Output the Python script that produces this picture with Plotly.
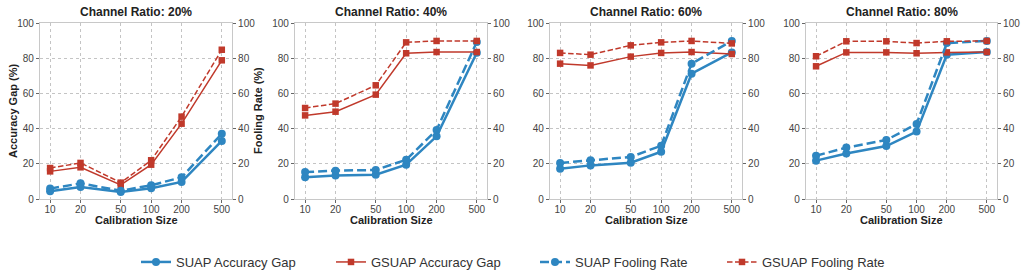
import plotly.graph_objects as go

calib_sizes = [10, 20, 50, 100, 200, 500]
tick_labels = ["10", "20", "50", "100", "200", "500"]
channel_ratios = ["20%", "40%", "60%", "80%"]

# per channel ratio (20, 40, 60, 80 %)
suap_acc_gap = [
    [4.4, 6.8, 4.0, 6.1, 9.7, 33.0],
    [12.3, 13.3, 13.8, 19.5, 35.6, 83.1],
    [17.2, 19.1, 20.6, 26.9, 71.2, 83.3],
    [21.8, 25.8, 30.1, 38.3, 82.0, 83.5],
]
gsuap_acc_gap = [
    [15.7, 18.0, 8.0, 19.5, 42.8, 78.8],
    [47.5, 49.6, 59.3, 82.8, 83.5, 83.5],
    [76.9, 75.9, 80.9, 83.0, 83.5, 82.4],
    [75.4, 83.3, 83.3, 82.8, 83.3, 83.5],
]
suap_fool_rate = [
    [5.9, 8.9, 4.7, 7.8, 12.3, 37.1],
    [15.3, 16.1, 16.5, 22.3, 39.2, 89.2],
    [20.5, 22.0, 23.9, 30.3, 76.9, 89.8],
    [24.6, 29.2, 33.5, 42.6, 88.6, 89.8],
]
gsuap_fool_rate = [
    [17.6, 20.5, 9.3, 22.0, 46.8, 84.8],
    [51.7, 54.2, 64.6, 89.0, 89.8, 89.8],
    [83.0, 82.0, 87.3, 89.0, 89.8, 88.4],
    [81.1, 89.6, 89.6, 88.6, 89.6, 89.8],
]
y_ticks = [0, 20, 40, 60, 80, 100]

BLUE = "#2e86c1"
RED = "#c0392b"
FONT = "Liberation Sans, Arial, sans-serif"
W, H = 1023, 276

x_px = [(40, 232), (295, 487), (550, 742), (806, 997)]
y_dom = [77 / H, 253 / H]

fig = go.Figure()

series = [
    ("SUAP Accuracy Gap", suap_acc_gap, BLUE, "solid", "circle", 8, 2.5, "left"),
    ("GSUAP Accuracy Gap", gsuap_acc_gap, RED, "solid", "square", 6.5, 1.5, "left"),
    ("SUAP Fooling Rate", suap_fool_rate, BLUE, "9px,4px", "circle", 8, 2.5, "right"),
    ("GSUAP Fooling Rate", gsuap_fool_rate, RED, "5.5px,2.5px", "square", 6.5, 1.5, "right"),
]
legend_names = ["legend", "legend2", "legend3", "legend4"]
legend_x = [136, 331, 535, 722]

for i in range(4):
    xa = f"x{i+1}" if i else "x"
    yl = f"y{2*i+1}" if i else "y"
    yr = f"y{2*i+2}"
    for k, (name, data, col, dash, sym, ms, lw, side) in enumerate(series):
        fig.add_trace(go.Scatter(
            x=calib_sizes, y=data[i], name=name, mode="lines+markers",
            line=dict(color=col, width=lw, dash=dash),
            marker=dict(symbol=sym, size=ms, color=col),
            xaxis=xa, yaxis=(yl if side == "left" else yr),
            showlegend=(i == 0), legend=legend_names[k],
        ))

layout = dict(
    width=W, height=H, margin=dict(l=0, r=0, t=0, b=0, autoexpand=False),
    paper_bgcolor="white", plot_bgcolor="white",
    font=dict(family=FONT, size=10, color="#444"),
)

axis_common = dict(
    showline=True, linecolor="#c8c8c8", linewidth=1.2, mirror=False,
    ticks="outside", ticklen=3, tickcolor="#666", tickwidth=1, automargin=False,
    tickfont=dict(family=FONT, size=10, color="#444"),
)

title_font = dict(family=FONT, size=11, color="#222")
annotations = []
for i in range(4):
    x0, x1 = x_px[i]
    xd = [x0 / W, x1 / W]
    xk = f"xaxis{i+1}" if i else "xaxis"
    ylk = f"yaxis{2*i+1}" if i else "yaxis"
    yrk = f"yaxis{2*i+2}"
    ylname = f"y{2*i+1}" if i else "y"
    xname = f"x{i+1}" if i else "x"
    layout[xk] = dict(
        axis_common, type="log", domain=xd, anchor=ylname,
        range=[0.9, 2.8], tickvals=calib_sizes, ticktext=tick_labels,
        showgrid=True, gridcolor="#c4c4c4", griddash="dot", gridwidth=1,
        mirror=True, zeroline=False, ticklabelstandoff=-2,
    )
    layout[ylk] = dict(
        axis_common, domain=y_dom, anchor=xname, range=[0, 100],
        tickvals=y_ticks, showgrid=True, gridcolor="#c4c4c4", griddash="dot",
        zeroline=False,
    )
    layout[yrk] = dict(
        axis_common, overlaying=ylname, side="right", anchor=xname,
        range=[0, 100], tickvals=y_ticks, showgrid=False, zeroline=False,
    )
    annotations.append(dict(
        text=f"<b>Channel Ratio: {channel_ratios[i]}</b>", xref="paper", yref="paper",
        x=(xd[0] + xd[1]) / 2, y=(H - 12) / H, xanchor="center", yanchor="middle",
        showarrow=False, font=dict(family=FONT, size=12, color="#222"),
    ))
    annotations.append(dict(
        text="<b>Calibration Size</b>", xref="paper", yref="paper",
        x=(xd[0] + xd[1]) / 2, y=(H - 219.5) / H, xanchor="center", yanchor="middle",
        showarrow=False, font=title_font,
    ))

annotations.append(dict(
    text="<b>Accuracy Gap (%)</b>", xref="paper", yref="paper", textangle=-90,
    x=13 / W, y=(H - 111) / H, xanchor="center", yanchor="middle",
    showarrow=False, font=title_font,
))
annotations.append(dict(
    text="<b>Fooling Rate (%)</b>", xref="paper", yref="paper", textangle=-90,
    x=258 / W, y=(H - 111) / H, xanchor="center", yanchor="middle",
    showarrow=False, font=title_font,
))

for k, ln in enumerate(legend_names):
    layout[ln] = dict(
        orientation="h", x=legend_x[k] / W, xanchor="left", y=(H - 262) / H, yanchor="middle",
        font=dict(family=FONT, size=13, color="#333"), bgcolor="rgba(0,0,0,0)",
    )

layout["annotations"] = annotations
fig.update_layout(**layout)
fig.write_html("out.html")
